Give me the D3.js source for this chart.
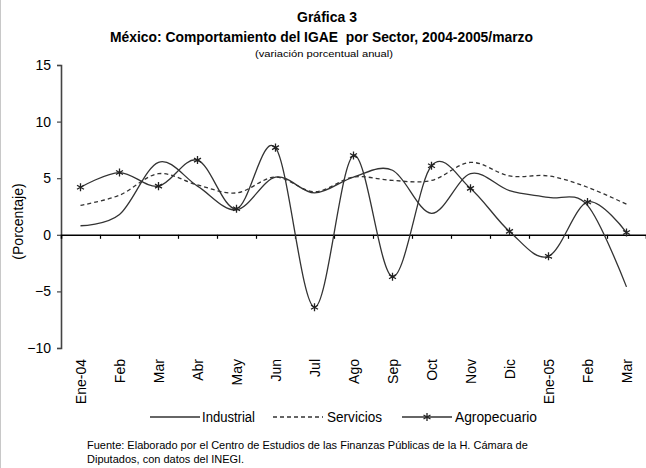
<!DOCTYPE html>
<html><head><meta charset="utf-8">
<script src="https://cdn.jsdelivr.net/npm/d3@7"></script>
<style>
body{margin:0;background:#fff}
text{font-family:"Liberation Sans",Arial,sans-serif;fill:#000;white-space:pre}
</style>
</head><body>
<svg id="c" width="646" height="468"></svg>
<script>
const months = ["Ene-04","Feb","Mar","Abr","May","Jun","Jul","Ago","Sep","Oct","Nov","Dic","Ene-05","Feb","Mar"];
const industrial   = [0.8, 1.8, 6.4, 4.3, 2.2, 5.1, 3.7, 5.1, 5.7, 1.9, 5.4, 3.9, 3.3, 2.6, -4.6];
const servicios    = [2.6, 3.5, 5.4, 4.4, 3.7, 5.1, 3.8, 5.1, 4.8, 4.8, 6.4, 5.2, 5.2, 4.2, 2.7];
const agropecuario = [4.2, 5.5, 4.3, 6.6, 2.3, 7.7, -6.4, 7.0, -3.7, 6.1, 4.1, 0.3, -1.9, 2.9, 0.2];
const yTicks = [-10, -5, 0, 5, 10, 15];
const seriesNames = ["Industrial", "Servicios", "Agropecuario"];

(function () {
const svg = d3.select("#c");
const W = 646, H = 468;
const pL = 61, pR = 646, pT = 65, pB = 348;

const x = d3.scaleBand().domain(d3.range(months.length)).range([pL, pR]);
const xEdge = d3.scaleLinear().domain([0, months.length]).range([pL, pR]);
const y = d3.scaleLinear().domain([-10, 15]).range([pB, pT]);
const cx = i => x(i) + x.bandwidth() / 2;

// left frame line
svg.append("line").attr("x1", 0.5).attr("x2", 0.5).attr("y1", 0).attr("y2", H)
  .attr("stroke", "#c8c8c8").attr("stroke-width", 1);

function fitText(sel, w) { sel.attr("textLength", w).attr("lengthAdjust", "spacingAndGlyphs"); return sel; }
fitText(svg.append("text").attr("x", 327).attr("y", 22).attr("text-anchor", "middle")
  .attr("font-size", 15).attr("font-weight", "bold").text("Gráfica 3"), 60);
fitText(svg.append("text").attr("x", 321.5).attr("y", 42).attr("text-anchor", "middle")
  .attr("font-size", 14.5).attr("font-weight", "bold")
  .text("México: Comportamiento del IGAE  por Sector, 2004-2005/marzo"), 423);
fitText(svg.append("text").attr("x", 324).attr("y", 57).attr("text-anchor", "middle")
  .attr("font-size", 9.5).text("(variación porcentual anual)"), 138);

// y axis
const yAxis = svg.append("g").attr("transform", `translate(${pL},0)`)
  .call(d3.axisLeft(y).tickValues(yTicks).tickSize(4).tickPadding(6).tickFormat(d3.format("d")));
yAxis.select(".domain").attr("stroke", "#444").attr("stroke-width", 1.6);
yAxis.selectAll(".tick line").attr("stroke", "#444").attr("stroke-width", 1.2);
yAxis.selectAll(".tick text").attr("font-size", 14).attr("font-family", "Liberation Sans, Arial, sans-serif")
  .attr("fill", "#000");

// y title
svg.append("text").attr("transform", `translate(23,${(pT + pB) / 2 + 15}) rotate(-90)`)
  .attr("text-anchor", "middle").attr("font-size", 14).text("(Porcentaje)");

// x axis at zero
const xAxis = svg.append("g").attr("transform", `translate(0,${y(0)})`)
  .call(d3.axisBottom(xEdge).tickValues(d3.range(1, months.length + 1)).tickSize(4).tickFormat(""));
xAxis.select(".domain").attr("stroke", "#000").attr("stroke-width", 1.6);
xAxis.selectAll(".tick line").attr("stroke", "#000").attr("stroke-width", 1.2);

// x labels
svg.append("g").selectAll("text").data(months).join("text")
  .attr("transform", (d, i) => `translate(${cx(i) + 5},359) rotate(-90)`)
  .attr("text-anchor", "end").attr("font-size", 14).text(d => d);

// lines
const line = d3.line().x((d, i) => cx(i)).y(d => y(d)).curve(d3.curveCardinal.tension(0));
const g = svg.append("g").attr("fill", "none");
g.append("path").attr("d", line(industrial)).attr("stroke", "#333").attr("stroke-width", 1.3);
g.append("path").attr("d", line(servicios)).attr("stroke", "#333").attr("stroke-width", 1.3)
  .attr("stroke-dasharray", "4,3");
g.append("path").attr("d", line(agropecuario)).attr("stroke", "#333").attr("stroke-width", 1.3);
const star = d3.symbol().type(d3.symbolAsterisk).size(45);
svg.append("g").selectAll("path").data(agropecuario).join("path")
  .attr("transform", (d, i) => `translate(${cx(i)},${y(d)})`)
  .attr("d", star()).attr("fill", "none").attr("stroke", "#222").attr("stroke-width", 1.3);

// legend
const ly = 417;
const leg = svg.append("g");
leg.append("line").attr("x1", 150).attr("x2", 200).attr("y1", ly).attr("y2", ly).attr("stroke", "#333").attr("stroke-width", 1.3);
fitText(leg.append("text").attr("x", 202).attr("y", ly + 5).attr("font-size", 14).text(seriesNames[0]), 53);
leg.append("line").attr("x1", 273).attr("x2", 323).attr("y1", ly).attr("y2", ly).attr("stroke", "#333").attr("stroke-width", 1.3).attr("stroke-dasharray", "4,3");
fitText(leg.append("text").attr("x", 327).attr("y", ly + 5).attr("font-size", 14).text(seriesNames[1]), 55);
leg.append("line").attr("x1", 402).attr("x2", 452).attr("y1", ly).attr("y2", ly).attr("stroke", "#333").attr("stroke-width", 1.3);
leg.append("path").attr("transform", `translate(427,${ly})`).attr("d", star()).attr("fill", "none").attr("stroke", "#222").attr("stroke-width", 1.3);
fitText(leg.append("text").attr("x", 455).attr("y", ly + 5).attr("font-size", 14).text(seriesNames[2]), 82);

// footer
svg.append("text").attr("x", 87).attr("y", 449).attr("font-size", 11)
  .text("Fuente: Elaborado por el Centro de Estudios de las Finanzas Públicas de la H. Cámara de");
svg.append("text").attr("x", 87).attr("y", 463).attr("font-size", 11)
  .text("Diputados, con datos del INEGI.");
})();
</script>
</body></html>
